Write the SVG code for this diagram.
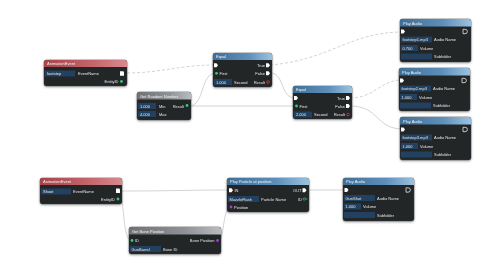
<svg xmlns="http://www.w3.org/2000/svg" width="500" height="278" viewBox="0 0 500 278">
<defs>
<linearGradient id="gRed" x1="0" y1="0" x2="1" y2="0"><stop offset="0" stop-color="#a8434a"/><stop offset="0.6" stop-color="#c4666c"/><stop offset="1" stop-color="#d88a8e"/></linearGradient>
<linearGradient id="gBlue" x1="0" y1="0" x2="1" y2="0"><stop offset="0" stop-color="#3f6f98"/><stop offset="0.6" stop-color="#5d8fbb"/><stop offset="1" stop-color="#9cc2de"/></linearGradient>
<linearGradient id="gGray" x1="0" y1="0" x2="1" y2="0"><stop offset="0" stop-color="#6e7174"/><stop offset="0.6" stop-color="#8f9295"/><stop offset="1" stop-color="#b9bcbe"/></linearGradient>
<filter id="sh" x="-10%" y="-10%" width="120%" height="130%"><feDropShadow dx="0" dy="1" stdDeviation="1" flood-color="#000" flood-opacity="0.35"/></filter>
<path id="flow" d="M-2,-2 H0.5 L2,0 L0.5,2 H-2 Z" fill="#fff"/>
<path id="evt" d="M-2,-2.2 H1 Q2,-2.2 2,-1 V2.2 H-2 Z" fill="#fff"/>
<path id="dout" d="M-2,-2.2 H0 Q2.4,-2.2 2.4,0 Q2.4,2.2 0,2.2 H-2 Z" fill="none" stroke="#fff" stroke-width="0.7"/>
</defs>
<style>
.body{fill:#232528;stroke:#3a3d40;stroke-width:0.5}
.t{font-family:"Liberation Sans",Arial,sans-serif;font-size:4px;fill:#e2e4e6}
.h{font-family:"Liberation Sans",Arial,sans-serif;font-size:4px;fill:#f2f2f2}
.r{text-anchor:end}
.box{fill:#24405f}
.c{fill:none;stroke:#c8c8c8;stroke-width:0.8}
.d{stroke-dasharray:3 2}
.gp{fill:#2ecf6e}
.rp{fill:none;stroke:#e0343c;stroke-width:0.8}
.pp{fill:#a53bd0}
</style>
<rect width="500" height="278" fill="#ffffff"/>

<g id="connectors">
<path class="c d" d="M127,73 C160,73 180,65 215,65"/>
<path class="c d" d="M270,65 C330,60 350,32 403,32"/>
<path class="c" d="M189,106 C205,106 200,73 216,73"/>
<path class="c" d="M189,106 L296,106"/>
<path class="c" d="M270,73 C285,73 280,98 295,98"/>
<path class="c d" d="M350,98 C375,98 380,80 402,80"/>
<path class="c" d="M350,106 C380,106 375,129 403,129"/>
<path class="c" d="M120,191 C170,191 190,190 230,190"/>
<path class="c" d="M120,199 C125,199 122,241 132,241"/>
<path class="c" d="M218,241 C225,241 222,207 231,207"/>
<path class="c" d="M306,190 L346,190"/>
</g>

<g id="animEvent1" filter="url(#sh)">
<rect class="body" x="44" y="60" width="83" height="26" rx="2.5"/>
<path d="M44,67 V62.5 Q44,60 46.5,60 H124.5 Q127,60 127,62.5 V67 Z" fill="url(#gRed)"/>
<text class="h" x="47" y="65.2">AnimationEvent</text>
<rect class="box" x="45" y="70.5" width="30" height="6"/>
<text class="t" x="47" y="75">footstep</text>
<text class="t" x="78" y="75">EventName</text>
<use href="#evt" x="122" y="73.5"/>
<text class="t r" x="118.5" y="83">EntityID</text>
<circle class="gp" cx="121.5" cy="81.5" r="1.4"/>
</g>

<g id="getRandom" filter="url(#sh)">
<rect class="body" x="137" y="92" width="54" height="28" rx="2.5"/>
<path d="M137,99.5 V94.5 Q137,92 139.5,92 H188.5 Q191,92 191,94.5 V99.5 Z" fill="url(#gGray)"/>
<text class="h" x="140" y="97.5">Get Random Number</text>
<rect class="box" x="138" y="103" width="18" height="6"/>
<text class="t" x="140" y="107.5">1.000</text>
<text class="t" x="159" y="107.5">Min</text>
<text class="t r" x="184" y="107.5">Result</text>
<circle class="gp" cx="187" cy="105.5" r="1.4"/>
<rect class="box" x="138" y="111" width="18" height="6"/>
<text class="t" x="140" y="115.5">4.000</text>
<text class="t" x="159" y="115.5">Max</text>
</g>

<g id="equal1" filter="url(#sh)">
<rect class="body" x="213" y="53" width="59" height="34" rx="2.5"/>
<path d="M213,60 V55.5 Q213,53 215.5,53 H269.5 Q272,53 272,55.5 V60 Z" fill="url(#gBlue)"/>
<text class="h" x="216" y="58.2">Equal</text>
<use href="#flow" x="216" y="65.3"/>
<text class="t r" x="265" y="66.8">True</text>
<use href="#flow" x="268" y="65.3"/>
<circle class="gp" cx="216.5" cy="73.3" r="1.4"/>
<text class="t" x="219.5" y="74.8">First</text>
<text class="t r" x="265" y="74.8">False</text>
<use href="#flow" x="268" y="73.3"/>
<rect class="box" x="214" y="79" width="18" height="6"/>
<text class="t" x="216" y="83.5">1.000</text>
<text class="t" x="234" y="83.5">Second</text>
<text class="t r" x="265" y="83.5">Result</text>
<circle class="rp" cx="268" cy="82" r="1.3"/>
</g>

<g id="equal2" filter="url(#sh)">
<rect class="body" x="293" y="86" width="59" height="33" rx="2.5"/>
<path d="M293,93 V88.5 Q293,86 295.5,86 H349.5 Q352,86 352,88.5 V93 Z" fill="url(#gBlue)"/>
<text class="h" x="296" y="91.2">Equal</text>
<use href="#flow" x="296" y="98"/>
<text class="t r" x="345" y="99.5">True</text>
<use href="#flow" x="348" y="98"/>
<circle class="gp" cx="296.5" cy="106" r="1.4"/>
<text class="t" x="299.5" y="107.5">First</text>
<text class="t r" x="345" y="107.5">False</text>
<use href="#flow" x="348" y="106"/>
<rect class="box" x="294" y="111.5" width="18" height="6"/>
<text class="t" x="296" y="116">2.000</text>
<text class="t" x="314" y="116">Second</text>
<text class="t r" x="345" y="116">Result</text>
<circle class="rp" cx="348" cy="114.5" r="1.3"/>
</g>

<g id="playAudio1" filter="url(#sh)">
<rect class="body" x="400" y="19" width="71" height="43" rx="2.5"/>
<path d="M400,26.5 V21.5 Q400,19 402.5,19 H468.5 Q471,19 471,21.5 V26.5 Z" fill="url(#gBlue)"/>
<text class="h" x="403" y="24.5">Play Audio</text>
<use href="#flow" x="403" y="31.5"/>
<use href="#dout" x="465" y="31.5"/>
<rect class="box" x="401" y="36.5" width="31" height="6"/>
<text class="t" x="402.5" y="41">footstep1.mp3</text>
<text class="t" x="434" y="41">Audio Name</text>
<rect class="box" x="401" y="45" width="17" height="6"/>
<text class="t" x="402.5" y="49.5">0.700</text>
<text class="t" x="420" y="49.5">Volume</text>
<rect class="box" x="401" y="53.5" width="31" height="6"/>
<text class="t" x="434" y="58">Subfolder</text>
</g>

<g id="playAudio2" filter="url(#sh)">
<rect class="body" x="399" y="68" width="71" height="43" rx="2.5"/>
<path d="M399,75.5 V70.5 Q399,68 401.5,68 H467.5 Q470,68 470,70.5 V75.5 Z" fill="url(#gBlue)"/>
<text class="h" x="402" y="73.5">Play Audio</text>
<use href="#flow" x="402" y="80.5"/>
<use href="#dout" x="464" y="80.5"/>
<rect class="box" x="400" y="85.5" width="31" height="6"/>
<text class="t" x="401.5" y="90">footstep2.mp3</text>
<text class="t" x="433" y="90">Audio Name</text>
<rect class="box" x="400" y="94" width="17" height="6"/>
<text class="t" x="401.5" y="98.5">1.000</text>
<text class="t" x="419" y="98.5">Volume</text>
<rect class="box" x="400" y="102.5" width="31" height="6"/>
<text class="t" x="433" y="107">Subfolder</text>
</g>

<g id="playAudio3" filter="url(#sh)">
<rect class="body" x="400" y="117" width="71" height="43" rx="2.5"/>
<path d="M400,124.5 V119.5 Q400,117 402.5,117 H468.5 Q471,117 471,119.5 V124.5 Z" fill="url(#gBlue)"/>
<text class="h" x="403" y="122.5">Play Audio</text>
<use href="#flow" x="403" y="129.5"/>
<use href="#dout" x="465" y="129.5"/>
<rect class="box" x="401" y="134.5" width="31" height="6"/>
<text class="t" x="402.5" y="139">footstep3.mp3</text>
<text class="t" x="434" y="139">Audio Name</text>
<rect class="box" x="401" y="143" width="17" height="6"/>
<text class="t" x="402.5" y="147.5">1.000</text>
<text class="t" x="420" y="147.5">Volume</text>
<rect class="box" x="401" y="151.5" width="31" height="6"/>
<text class="t" x="434" y="156">Subfolder</text>
</g>

<g id="animEvent2" filter="url(#sh)">
<rect class="body" x="40" y="178" width="82" height="26" rx="2.5"/>
<path d="M40,185 V180.5 Q40,178 42.5,178 H119.5 Q122,178 122,180.5 V185 Z" fill="url(#gRed)"/>
<text class="h" x="43" y="183.2">AnimationEvent</text>
<rect class="box" x="41" y="188.5" width="30" height="6"/>
<text class="t" x="43" y="193">Shoot</text>
<text class="t" x="73" y="193">EventName</text>
<use href="#evt" x="118" y="190.7"/>
<text class="t r" x="115" y="200.5">EntityID</text>
<circle class="gp" cx="118" cy="199" r="1.4"/>
</g>

<g id="getBonePosition" filter="url(#sh)">
<rect class="body" x="129" y="227" width="92" height="27" rx="2.5"/>
<path d="M129,234.5 V229.5 Q129,227 131.5,227 H218.5 Q221,227 221,229.5 V234.5 Z" fill="url(#gGray)"/>
<text class="h" x="132" y="232.5">Get Bone Position</text>
<circle class="gp" cx="132" cy="240.5" r="1.4"/>
<text class="t" x="135" y="242">ID</text>
<text class="t r" x="214.5" y="242">Bone Position</text>
<circle class="pp" cx="217.5" cy="240.5" r="1.4"/>
<rect class="box" x="130" y="246" width="31" height="6"/>
<text class="t" x="131.5" y="250.5">GunBarrel</text>
<text class="t" x="163" y="250.5">Bone ID</text>
</g>

<g id="playParticle" filter="url(#sh)">
<rect class="body" x="227" y="178" width="82" height="34" rx="2.5"/>
<path d="M227,185 V180.5 Q227,178 229.5,178 H306.5 Q309,178 309,180.5 V185 Z" fill="url(#gBlue)"/>
<text class="h" x="230" y="183.2">Play Particle at position</text>
<use href="#flow" x="231" y="190.3"/>
<text class="t" x="234.5" y="191.8">IN</text>
<text class="t r" x="301.5" y="191.8">OUT</text>
<use href="#flow" x="304.5" y="190.3"/>
<rect class="box" x="228" y="196" width="31" height="6"/>
<text class="t" x="229.5" y="200.5">MuzzleFlash</text>
<text class="t" x="261" y="200.5">Particle Name</text>
<text class="t r" x="302" y="200.5">ID</text>
<circle cx="304.3" cy="199" r="1.2" fill="none" stroke="#2ecf6e" stroke-width="0.7"/>
<path d="M305.5,199 H307.5" stroke="#2ecf6e" stroke-width="0.7"/>
<circle class="pp" cx="231" cy="207" r="1.4"/>
<text class="t" x="234" y="208.5">Position</text>
</g>

<g id="playAudio4" filter="url(#sh)">
<rect class="body" x="343" y="178" width="71" height="43" rx="2.5"/>
<path d="M343,185 V180.5 Q343,178 345.5,178 H411.5 Q414,178 414,180.5 V185 Z" fill="url(#gBlue)"/>
<text class="h" x="346" y="183.2">Play Audio</text>
<use href="#flow" x="346.5" y="190"/>
<use href="#dout" x="408" y="190"/>
<rect class="box" x="344" y="195" width="31" height="6"/>
<text class="t" x="345.5" y="199.5">GunShot</text>
<text class="t" x="377" y="199.5">Audio Name</text>
<rect class="box" x="344" y="203.5" width="17" height="6"/>
<text class="t" x="345.5" y="208">1.000</text>
<text class="t" x="363" y="208">Volume</text>
<rect class="box" x="344" y="212" width="31" height="6"/>
<text class="t" x="377" y="216.5">Subfolder</text>
</g>
</svg>
